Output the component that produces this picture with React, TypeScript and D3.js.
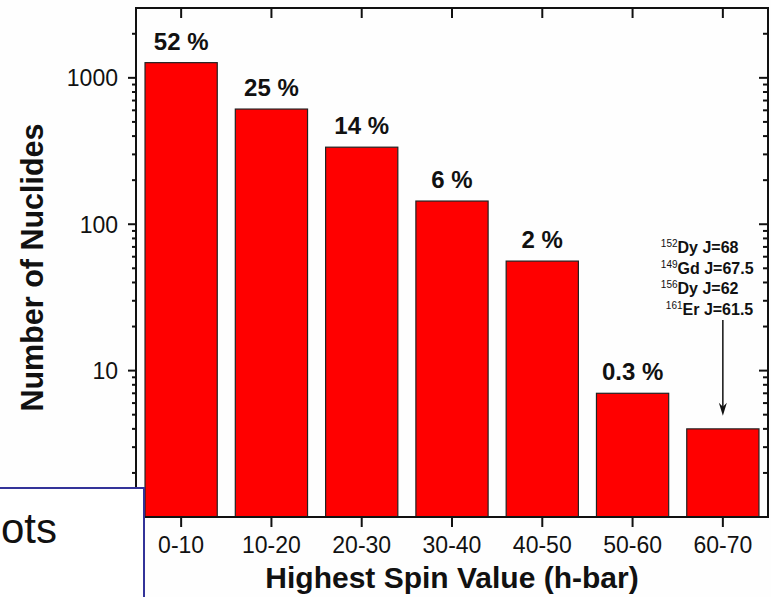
import React from "react";
import * as d3 from "d3";

const categories = ["0-10", "10-20", "20-30", "30-40", "40-50", "50-60", "60-70"];
const counts = [1270, 612, 336, 144, 56, 7, 4];
const percentLabels = ["52 %", "25 %", "14 %", "6 %", "2 %", "0.3 %", ""];
const yMajorTicks = [1, 10, 100, 1000];
const yLabelTicks = [10, 100, 1000];
const annotationMasses = ["152", "149", "156", "161"];
const annotationTexts = ["Dy J=68", "Gd J=67.5", "Dy J=62", "Er J=61.5"];
const xTitle = "Highest Spin Value (h-bar)";
const yTitle = "Number of Nuclides";

const W = 771;
const H = 597;
const L = 136, R = 768, T = 8, B = 517;
const FONT = "Arial, 'Liberation Sans', Helvetica, sans-serif";

export default function App() {
  const x = d3.scaleBand<string>().domain(categories).range([L, R]).paddingInner(0.2).paddingOuter(0.1);
  const y = d3.scaleLog().domain([1, 3000]).range([B, T]);
  const minorTicks: number[] = [];
  yMajorTicks.forEach((d) => {
    for (let m = 2; m <= 9; m++) {
      const v = d * m;
      if (v < 3000) minorTicks.push(v);
    }
  });
  const bw = x.bandwidth();
  const lastCat = categories[categories.length - 1];
  const arrowX = (x(lastCat) as number) + bw / 2;
  const arrowTip = y(counts[counts.length - 1]) - 13;
  const annLeft = arrowX - 62;
  const annBase = 253;
  const annStep = 20.5;

  return (
    <div style={{ position: "fixed", left: 0, top: 0, width: W, height: H, background: "#fff" }}>
      <svg width={W} height={H} style={{ display: "block" }} fontFamily={FONT}>
        <rect x={0} y={0} width={W} height={H} fill="#fefefe" />
        {categories.map((c, i) => (
          <rect
            key={c}
            x={x(c)}
            y={y(counts[i])}
            width={bw}
            height={B - y(counts[i])}
            fill="#ff0000"
            stroke="#222"
            strokeWidth={1.2}
          />
        ))}
        {categories.map((c, i) => (
          <text
            key={"p" + c}
            x={(x(c) as number) + bw / 2}
            y={y(counts[i]) - 13}
            textAnchor="middle"
            fontWeight="bold"
            fontSize={24}
            fill="#111"
          >
            {percentLabels[i]}
          </text>
        ))}
        <rect x={L} y={T} width={R - L} height={B - T} fill="none" stroke="#111" strokeWidth={2} />
        {yMajorTicks.map((v) => (
          <g key={"M" + v}>
            <line x1={L - 8} x2={L} y1={y(v)} y2={y(v)} stroke="#111" strokeWidth={2} />
            <line x1={R - 9} x2={R} y1={y(v)} y2={y(v)} stroke="#111" strokeWidth={2} />
          </g>
        ))}
        {minorTicks.map((v) => (
          <g key={"m" + v}>
            <line x1={L - 4} x2={L} y1={y(v)} y2={y(v)} stroke="#111" strokeWidth={2} />
            <line x1={R - 5} x2={R} y1={y(v)} y2={y(v)} stroke="#111" strokeWidth={2} />
          </g>
        ))}
        {yLabelTicks.map((v) => (
          <text
            key={"yl" + v}
            x={L - 18}
            y={y(v)}
            dy="0.36em"
            textAnchor="end"
            fontSize={23}
            fill="#111"
          >
            {v}
          </text>
        ))}
        {categories.map((c) => {
          const cx = (x(c) as number) + bw / 2;
          return (
            <g key={"xt" + c}>
              <line x1={cx} x2={cx} y1={B} y2={B + 10} stroke="#111" strokeWidth={2} />
              <line x1={cx} x2={cx} y1={T} y2={T + 10} stroke="#111" strokeWidth={2} />
              <text x={cx} y={553} textAnchor="middle" fontSize={23} fill="#111">
                {c}
              </text>
            </g>
          );
        })}
        <text x={(L + R) / 2} y={588} textAnchor="middle" fontWeight="bold" fontSize={30} fill="#111">
          {xTitle}
        </text>
        <text
          transform={`translate(43, ${(T + B) / 2 + 5}) rotate(-90)`}
          textAnchor="middle"
          fontWeight="bold"
          fontSize={30.5}
          fill="#111"
        >
          {yTitle}
        </text>
        {annotationTexts.map((t, i) => (
          <text key={"a" + i} x={annLeft + (i === 3 ? 5 : 0)} y={annBase + i * annStep} fill="#111">
            <tspan fontSize={10} dy={-6}>{annotationMasses[i]}</tspan>
            <tspan fontSize={16} fontWeight="bold" dy={6}>{t}</tspan>
          </text>
        ))}
        <line x1={arrowX} x2={arrowX} y1={320} y2={arrowTip - 8} stroke="#111" strokeWidth={1.5} />
        <path
          d={`M${arrowX - 4},${arrowTip - 13} L${arrowX},${arrowTip - 9} L${arrowX + 4},${arrowTip - 13} L${arrowX},${arrowTip} Z`}
          fill="#111"
        />
        <rect x={-10} y={488} width={154} height={130} fill="#fff" stroke="#333399" strokeWidth={2} />
        <text x={1} y={543} fontSize={42} fill="#111">ots</text>
      </svg>
    </div>
  );
}
